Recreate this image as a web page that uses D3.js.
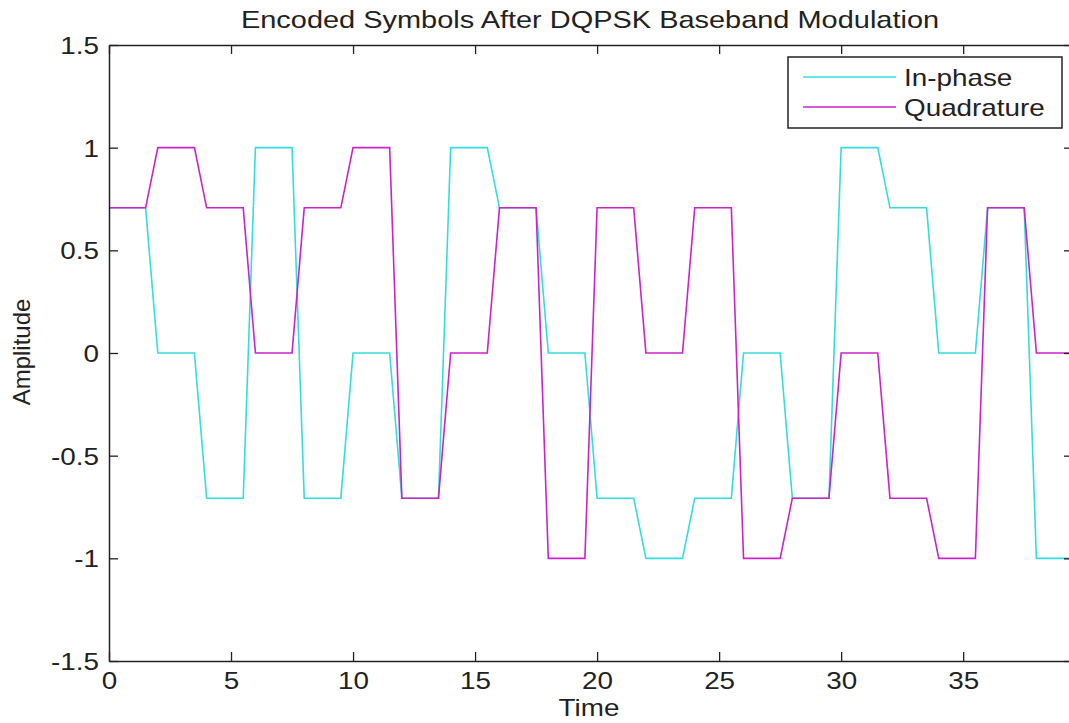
<!DOCTYPE html>
<html>
<head>
<meta charset="utf-8">
<script src="https://cdn.jsdelivr.net/npm/d3@7"></script>
<style>
  body { margin: 0; background: #fff; }
  svg text { font-family: "Liberation Sans", Arial, sans-serif; fill: #222; }
</style>
</head>
<body>
<svg id="chart" width="1069" height="723"></svg>
<script>
// symbol start times; each symbol is held for 1.5 time units, then ramps to the next
var symbolTimes = [0, 2, 4, 6, 8, 10, 12, 14, 16, 18, 20, 22, 24, 26, 28, 30, 32, 34, 36, 38]
var holdTime = 1.5
var r = 0.7071
var inPhase    = [ r, 0, -r, 1, -r, 0, -r, 1,  r,  0, -r, -1, -r,  0, -r, 1,  r,  0, r, -1]
var quadrature = [ r, 1,  r, 0,  r, 1, -r, 0,  r, -1,  r,  0,  r, -1, -r, 0, -r, -1, r,  0]

var xTicks = [0, 5, 10, 15, 20, 25, 30, 35]
var yTicks = [-1.5, -1, -0.5, 0, 0.5, 1, 1.5]
var yTickLabels = ['-1.5', '-1', '-0.5', '0', '0.5', '1', '1.5']

var seriesNames = ['In-phase', 'Quadrature']
var seriesColors = ['#33dddd', '#cc22cc']

var svg = d3.select('#chart')
var stretch = 1.16  // the figure text looks widened horizontally

var xScale = d3.scaleLinear().domain([0, 39.5]).range([109, 1073])
var yScale = d3.scaleLinear().domain([-1.5, 1.5]).range([661, 45])

// build polyline points: start and end of each symbol's hold
function points(values) {
  var pts = []
  symbolTimes.forEach(function(t, i) {
    pts.push([t, values[i]])
    pts.push([t + holdTime, values[i]])
  })
  return pts
}

var line = d3.line()
  .x(function(d) { return xScale(d[0]) })
  .y(function(d) { return yScale(d[1]) })

var clip = svg.append('clipPath').attr('id', 'plot-clip')
  .append('rect')
  .attr('x', 109).attr('y', 45)
  .attr('width', 1073 - 109).attr('height', 661 - 45)

var plot = svg.append('g').attr('clip-path', 'url(#plot-clip)')

;[inPhase, quadrature].forEach(function(values, i) {
  plot.append('path')
    .datum(points(values))
    .attr('fill', 'none')
    .attr('stroke', seriesColors[i])
    .attr('stroke-width', 1.6)
    .attr('d', line)
})

// axes (MATLAB style: ticks inward on all four sides)
function styleAxis(g) {
  g.select('.domain').attr('stroke', '#222').attr('stroke-width', 1.5)
  g.selectAll('.tick line').attr('stroke', '#222').attr('stroke-width', 1.3)
}

var xBottom = svg.append('g')
  .attr('transform', 'translate(0,661)')
  .call(d3.axisBottom(xScale).tickValues(xTicks).tickSizeInner(-9).tickSizeOuter(0))
  .call(styleAxis)
xBottom.selectAll('.tick text')
  .attr('y', 0).attr('dy', 0)
  .attr('transform', 'translate(0,28) scale(' + stretch + ',1)')
  .attr('font-size', 24)
  .style('fill', '#222')

var xTop = svg.append('g')
  .attr('transform', 'translate(0,45)')
  .call(d3.axisTop(xScale).tickValues(xTicks).tickSizeInner(-9).tickSizeOuter(0).tickFormat(''))
  .call(styleAxis)

var yLeft = svg.append('g')
  .attr('transform', 'translate(109,0)')
  .call(d3.axisLeft(yScale).tickValues(yTicks).tickSizeInner(-9).tickSizeOuter(0)
    .tickFormat(function(d) { return yTickLabels[yTicks.indexOf(d)] }))
  .call(styleAxis)
yLeft.selectAll('.tick text')
  .attr('x', 0).attr('dy', 0)
  .attr('transform', 'translate(-10,8.5) scale(' + stretch + ',1)')
  .attr('font-size', 24)
  .style('fill', '#222')

var yRight = svg.append('g')
  .attr('transform', 'translate(1073,0)')
  .call(d3.axisRight(yScale).tickValues(yTicks).tickSizeInner(-9).tickSizeOuter(0).tickFormat(''))
  .call(styleAxis)

// title and axis labels
svg.append('text')
  .attr('transform', 'translate(590,28) scale(' + (stretch * 1.04) + ',1)')
  .attr('text-anchor', 'middle')
  .attr('font-size', 24)
  .text('Encoded Symbols After DQPSK Baseband Modulation')

svg.append('text')
  .attr('transform', 'translate(589,716) scale(' + stretch + ',1)')
  .attr('text-anchor', 'middle')
  .attr('font-size', 24)
  .text('Time')

svg.append('text')
  .attr('transform', 'translate(30,352) rotate(-90)')
  .attr('text-anchor', 'middle')
  .attr('font-size', 24)
  .text('Amplitude')

// legend
var legend = svg.append('g').attr('class', 'legend')
legend.append('rect')
  .attr('x', 788).attr('y', 57)
  .attr('width', 1062 - 788).attr('height', 128 - 57)
  .attr('fill', '#fff').attr('stroke', '#222').attr('stroke-width', 1.5)

var legendRows = [77, 107]
seriesNames.forEach(function(name, i) {
  legend.append('line')
    .attr('x1', 803).attr('x2', 896)
    .attr('y1', legendRows[i]).attr('y2', legendRows[i])
    .attr('stroke', seriesColors[i]).attr('stroke-width', 1.6)
  legend.append('text')
    .attr('transform', 'translate(904,' + (legendRows[i] + 8.5) + ') scale(' + stretch + ',1)')
    .attr('font-size', 24)
    .text(name)
})
</script>
</body>
</html>
